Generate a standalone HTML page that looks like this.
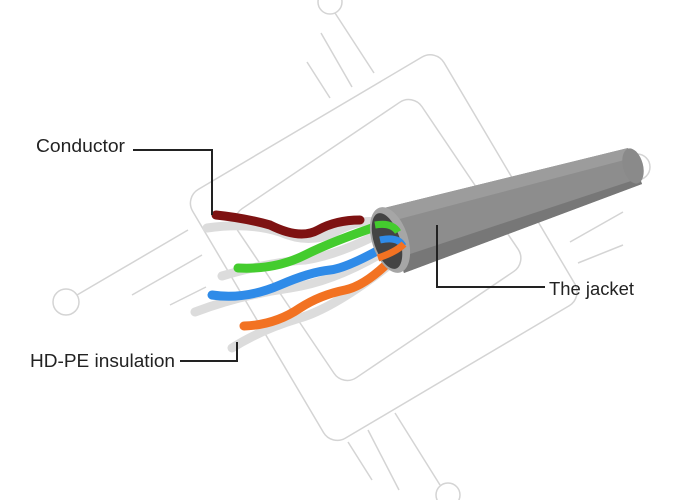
<!DOCTYPE html>
<html><head><style>body{margin:0;background:#fff}svg{display:block}</style></head><body>
<svg width="700" height="500" viewBox="0 0 700 500" xmlns="http://www.w3.org/2000/svg">
<g fill="none" stroke="#d4d4d4" stroke-width="1.5">
<rect x="-145" y="-146" width="289" height="292" rx="16" transform="translate(384,248) rotate(59.4)"/>
<rect x="-102" y="-111" width="204" height="222" rx="16" transform="translate(378,240) rotate(56)"/>
<circle cx="66" cy="302" r="13"/><circle cx="637" cy="167" r="13"/>
<circle cx="330" cy="2" r="12"/><circle cx="448" cy="495" r="12"/>
<path d="M77 295 L188 230 M132 295 L202 255 M170 305 L206 287"/>
<path d="M335 13 L374 73 M321 33 L352 87 M307 62 L330 98"/>
<path d="M556 213 L626 178 M570 242 L623 212 M578 263 L623 245"/>
<path d="M348 442 L372 480 M368 430 L399 490 M395 413 L440 485"/>
</g>
<g fill="none" stroke-linecap="round">
<path d="M207 228 Q250 222 280 232 Q310 245 335 232 T375 222" stroke="#dcdcdc" stroke-width="9"/>
<path d="M216 215 Q245 218 270 225 Q300 240 318 230 T360 220" stroke="#7e1212" stroke-width="9"/>
<path d="M222 276 Q270 262 305 260 Q340 255 390 228" stroke="#dcdcdc" stroke-width="9"/>
<path d="M238 268 Q275 270 305 255 T390 222" stroke="#44cc2e" stroke-width="9"/>
<path d="M195 312 Q240 295 290 288 T400 242" stroke="#dcdcdc" stroke-width="9"/>
<path d="M212 295 Q245 300 280 285 Q310 272 330 270 T405 235" stroke="#2f8be8" stroke-width="9"/>
<path d="M232 348 Q260 330 300 318 T408 250" stroke="#dcdcdc" stroke-width="9"/>
<path d="M244 326 Q275 325 300 308 Q320 295 345 290 T405 245" stroke="#f27222" stroke-width="9"/>
</g>
<path d="M384 208 L628 148 L642 184 L404 273 Z" fill="#8d8d8d"/>
<path d="M384 208 L628 148 L632 158 L388 222 Z" fill="#9c9c9c"/>
<path d="M398 258 L640 178 L642 184 L404 273 Z" fill="#777"/>
<ellipse cx="390" cy="240" rx="18" ry="34" fill="#a6a6a6" transform="rotate(-18 390 240)"/>
<ellipse cx="387" cy="241" rx="13" ry="29" fill="#444" transform="rotate(-18 387 241)"/>
<path d="M375 225 Q392 222 398 232" stroke="#44cc2e" stroke-width="7" fill="none"/>
<path d="M380 240 Q398 236 403 246" stroke="#2f8be8" stroke-width="7" fill="none"/>
<path d="M378 258 Q396 252 404 244" stroke="#f27222" stroke-width="7" fill="none"/>
<ellipse cx="633" cy="166" rx="10" ry="18" fill="#8a8a8a" transform="rotate(-15 633 166)"/>
<g fill="none" stroke="#222" stroke-width="2">
<path d="M133 150 H212 V215"/>
<path d="M437 225 V287 H545"/>
<path d="M180 361 H237 V342"/>
</g>
<g font-family="Liberation Sans, sans-serif" font-size="18" fill="#222">
<text x="36" y="152" textLength="89" lengthAdjust="spacingAndGlyphs">Conductor</text>
<text x="549" y="295" textLength="85" lengthAdjust="spacingAndGlyphs">The jacket</text>
<text x="30" y="367" textLength="145" lengthAdjust="spacingAndGlyphs">HD-PE insulation</text>
</g>
</svg>
</body></html>
